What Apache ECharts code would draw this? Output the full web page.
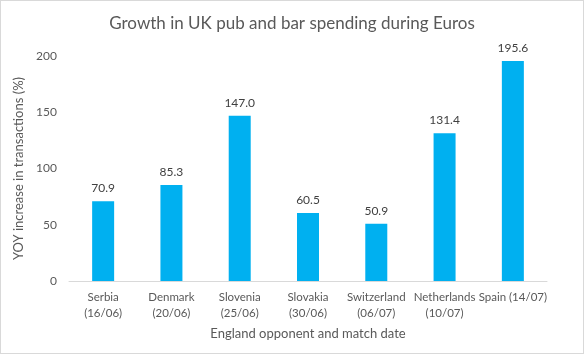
<!DOCTYPE html>
<html>
<head>
<meta charset="utf-8">
<script src="https://cdn.jsdelivr.net/npm/echarts@6/dist/echarts.min.js"></script>
<style>
  html, body { margin: 0; padding: 0; background: #fff; }
  #chart { width: 582px; height: 352px; border: 1px solid #d9d9d9; }
</style>
</head>
<body>
<div id="chart"></div>
<script>
// opponents and match dates
var categories = ['Serbia\n(16/06)', 'Denmark\n(20/06)', 'Slovenia\n(25/06)', 'Slovakia\n(30/06)',
  'Switzerland\n(06/07)', 'Netherlands\n(10/07)', 'Spain (14/07)']
// YOY increase in transactions (%)
var growth = [70.9, 85.3, 147.0, 60.5, 50.9, 131.4, 195.6]

var font = 'Lato, "Open Sans", sans-serif'
var chart = echarts.init(document.getElementById('chart'))
var option = {
  animation: false,
  title: {
    text: 'Growth in UK pub and bar spending during Euros',
    left: 'center',
    top: 9,
    textStyle: { color: '#595959', fontSize: 17, fontWeight: 'normal', fontFamily: font }
  },
  grid: { left: 68, right: 36, top: 55, bottom: 72 },
  xAxis: {
    type: 'category',
    data: categories,
    name: 'England opponent and match date',
    nameLocation: 'middle',
    nameGap: 46,
    nameTextStyle: { color: '#595959', fontSize: 13, fontFamily: font },
    axisLine: { lineStyle: { color: '#d9d9d9' } },
    axisTick: { show: false },
    axisLabel: { color: '#595959', fontSize: 11.5, fontFamily: font, lineHeight: 16, margin: 8, interval: 0 }
  },
  yAxis: {
    type: 'value',
    min: 0,
    max: 200,
    interval: 50,
    name: 'YOY increase in transactions (%)',
    nameLocation: 'middle',
    nameGap: 44,
    nameTextStyle: { color: '#595959', fontSize: 13, fontFamily: font },
    splitLine: { show: false },
    axisLine: { show: false },
    axisTick: { show: false },
    axisLabel: { color: '#595959', fontSize: 12, fontFamily: font, margin: 12 }
  },
  series: [{
    type: 'bar',
    data: growth,
    barWidth: 22,
    itemStyle: { color: '#00b0f0' },
    label: {
      show: true,
      position: 'top',
      distance: 7,
      color: '#404040',
      fontSize: 12,
      fontFamily: font,
      formatter: function(p) { return p.value.toFixed(1) }
    }
  }]
}
chart.setOption(option)
</script>
</body>
</html>
